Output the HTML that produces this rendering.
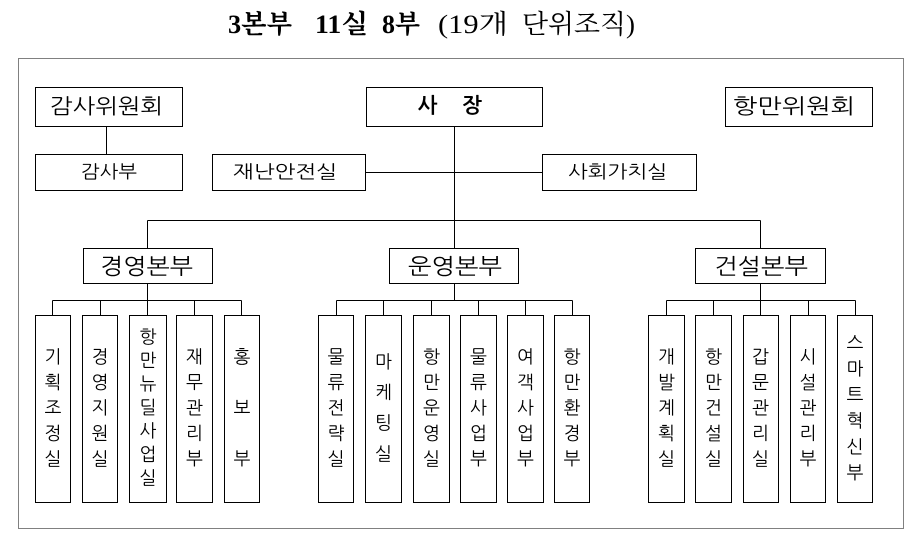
<!DOCTYPE html>
<html><head><meta charset="utf-8"><style>
html,body{margin:0;padding:0;background:#fff;}
svg{display:block;}
.k{font-family:"NanumGothic","Noto Sans CJK KR",sans-serif;fill:#000;}
.t{font-family:"Liberation Serif","Noto Serif CJK SC",serif;fill:#000;}
</style></head><body>
<svg width="911" height="539" viewBox="0 0 911 539" xmlns="http://www.w3.org/2000/svg">
<rect x="0" y="0" width="911" height="539" fill="#fff"/>
<!-- Title -->
<g class="t" font-size="26">
<text x="228" y="33" font-weight="bold" textLength="64" lengthAdjust="spacingAndGlyphs">3본부</text>
<text x="315" y="33" font-weight="bold" textLength="53" lengthAdjust="spacingAndGlyphs">11실</text>
<text x="382" y="33" font-weight="bold" textLength="38" lengthAdjust="spacingAndGlyphs">8부</text>
<text x="438" y="33" textLength="70" lengthAdjust="spacingAndGlyphs">(19개</text>
<text x="522" y="33" textLength="113" lengthAdjust="spacingAndGlyphs">단위조직)</text>
</g>
<!-- dotted frame -->
<rect x="18.5" y="58.5" width="885" height="470" fill="none" stroke="#000" stroke-width="1" stroke-dasharray="1,1"/>
<g fill="none" stroke="#000" stroke-width="1">
<!-- top boxes -->
<rect x="35.5" y="87.5" width="147" height="39"/>
<rect x="366.5" y="87.5" width="176" height="39"/>
<rect x="725.5" y="87.5" width="147" height="39"/>
<rect x="35.5" y="154.5" width="147" height="36"/>
<rect x="212.5" y="154.5" width="153" height="36"/>
<rect x="542.5" y="154.5" width="154" height="36"/>
<!-- connectors -->
<line x1="106.5" y1="126.5" x2="106.5" y2="154.5"/>
<line x1="454.5" y1="126.5" x2="454.5" y2="220.5"/>
<line x1="365.5" y1="172.5" x2="542.5" y2="172.5"/>
<line x1="147.5" y1="220.5" x2="760.5" y2="220.5"/>
<line x1="147.5" y1="220.5" x2="147.5" y2="248.5"/>
<line x1="760.5" y1="220.5" x2="760.5" y2="248.5"/>
<line x1="454.5" y1="220.5" x2="454.5" y2="248.5"/>
<!-- division boxes -->
<rect x="83.5" y="248.5" width="129" height="35"/>
<rect x="389.5" y="248.5" width="129" height="35"/>
<rect x="695.5" y="248.5" width="130" height="35"/>
<line x1="147.5" y1="283.5" x2="147.5" y2="300.5"/>
<line x1="454.5" y1="283.5" x2="454.5" y2="300.5"/>
<line x1="760.5" y1="283.5" x2="760.5" y2="300.5"/>
<line x1="52.5" y1="300.5" x2="241.5" y2="300.5"/>
<line x1="336.5" y1="300.5" x2="572.5" y2="300.5"/>
<line x1="666.5" y1="300.5" x2="855.5" y2="300.5"/>
<!-- sub verticals -->
<line x1="52.5" y1="300.5" x2="52.5" y2="315.5"/>
<line x1="100.5" y1="300.5" x2="100.5" y2="315.5"/>
<line x1="147.5" y1="300.5" x2="147.5" y2="315.5"/>
<line x1="194.5" y1="300.5" x2="194.5" y2="315.5"/>
<line x1="241.5" y1="300.5" x2="241.5" y2="315.5"/>
<line x1="336.5" y1="300.5" x2="336.5" y2="315.5"/>
<line x1="383.5" y1="300.5" x2="383.5" y2="315.5"/>
<line x1="431.5" y1="300.5" x2="431.5" y2="315.5"/>
<line x1="478.5" y1="300.5" x2="478.5" y2="315.5"/>
<line x1="525.5" y1="300.5" x2="525.5" y2="315.5"/>
<line x1="572.5" y1="300.5" x2="572.5" y2="315.5"/>
<line x1="666.5" y1="300.5" x2="666.5" y2="315.5"/>
<line x1="713.5" y1="300.5" x2="713.5" y2="315.5"/>
<line x1="760.5" y1="300.5" x2="760.5" y2="315.5"/>
<line x1="808.5" y1="300.5" x2="808.5" y2="315.5"/>
<line x1="855.5" y1="300.5" x2="855.5" y2="315.5"/>
<!-- sub boxes -->
<rect x="35.5" y="315.5" width="35" height="187"/>
<rect x="82.5" y="315.5" width="35" height="187"/>
<rect x="129.5" y="315.5" width="37" height="187"/>
<rect x="176.5" y="315.5" width="36" height="187"/>
<rect x="224.5" y="315.5" width="35" height="187"/>
<rect x="318.5" y="315.5" width="35" height="187"/>
<rect x="365.5" y="315.5" width="36" height="187"/>
<rect x="413.5" y="315.5" width="36" height="187"/>
<rect x="460.5" y="315.5" width="36" height="187"/>
<rect x="507.5" y="315.5" width="36" height="187"/>
<rect x="554.5" y="315.5" width="35" height="187"/>
<rect x="648.5" y="315.5" width="36" height="187"/>
<rect x="695.5" y="315.5" width="36" height="187"/>
<rect x="743.5" y="315.5" width="35" height="187"/>
<rect x="790.5" y="315.5" width="35" height="187"/>
<rect x="837.5" y="315.5" width="35" height="187"/>
</g>
<!-- horizontal labels -->
<g class="k" dominant-baseline="central">
<text x="50" y="107" font-size="21" textLength="113" lengthAdjust="spacingAndGlyphs">감사위원회</text>
<text x="733" y="107" font-size="21" textLength="122" lengthAdjust="spacingAndGlyphs">항만위원회</text>
<text x="427.5" y="106" font-size="21" font-weight="bold" text-anchor="middle">사</text>
<text x="472" y="106" font-size="21" font-weight="bold" text-anchor="middle">장</text>
<text x="81" y="172" font-size="18" textLength="56" lengthAdjust="spacingAndGlyphs">감사부</text>
<text x="233" y="172" font-size="18" textLength="104" lengthAdjust="spacingAndGlyphs">재난안전실</text>
<text x="568" y="172" font-size="18" textLength="99" lengthAdjust="spacingAndGlyphs">사회가치실</text>
<text x="100" y="267" font-size="22" textLength="93" lengthAdjust="spacingAndGlyphs">경영본부</text>
<text x="408" y="267" font-size="22" textLength="94" lengthAdjust="spacingAndGlyphs">운영본부</text>
<text x="714" y="267" font-size="22" textLength="94" lengthAdjust="spacingAndGlyphs">건설본부</text>
</g>
<!-- vertical labels -->
<g class="k" font-size="18" text-anchor="middle" dominant-baseline="central">
<g transform="translate(53,0)"><text y="357">기</text><text y="382.5">획</text><text y="408">조</text><text y="433.5">정</text><text y="459">실</text></g>
<g transform="translate(100,0)"><text y="357">경</text><text y="382.5">영</text><text y="408">지</text><text y="433.5">원</text><text y="459">실</text></g>
<g transform="translate(148,0)"><text y="337">항</text><text y="360.5">만</text><text y="384">뉴</text><text y="407.5">딜</text><text y="431">사</text><text y="454.5">업</text><text y="478">실</text></g>
<g transform="translate(194.5,0)"><text y="357">재</text><text y="382.5">무</text><text y="408">관</text><text y="433.5">리</text><text y="459">부</text></g>
<g transform="translate(242,0)"><text y="357">홍</text><text y="408">보</text><text y="459">부</text></g>

<g transform="translate(336,0)"><text y="357">물</text><text y="382.5">류</text><text y="408">전</text><text y="433.5">략</text><text y="459">실</text></g>
<g transform="translate(383.5,0)"><text y="362">마</text><text y="392.5">케</text><text y="423">팅</text><text y="454">실</text></g>
<g transform="translate(431.5,0)"><text y="357">항</text><text y="382.5">만</text><text y="408">운</text><text y="433.5">영</text><text y="459">실</text></g>
<g transform="translate(478.5,0)"><text y="357">물</text><text y="382.5">류</text><text y="408">사</text><text y="433.5">업</text><text y="459">부</text></g>
<g transform="translate(525.5,0)"><text y="357">여</text><text y="382.5">객</text><text y="408">사</text><text y="433.5">업</text><text y="459">부</text></g>
<g transform="translate(572,0)"><text y="357">항</text><text y="382.5">만</text><text y="408">환</text><text y="433.5">경</text><text y="459">부</text></g>

<g transform="translate(666.5,0)"><text y="357">개</text><text y="382.5">발</text><text y="408">계</text><text y="433.5">획</text><text y="459">실</text></g>
<g transform="translate(713.5,0)"><text y="357">항</text><text y="382.5">만</text><text y="408">건</text><text y="433.5">설</text><text y="459">실</text></g>
<g transform="translate(760.5,0)"><text y="357">갑</text><text y="382.5">문</text><text y="408">관</text><text y="433.5">리</text><text y="459">실</text></g>
<g transform="translate(808,0)"><text y="357">시</text><text y="382.5">설</text><text y="408">관</text><text y="433.5">리</text><text y="459">부</text></g>
<g transform="translate(855,0)"><text y="343">스</text><text y="369">마</text><text y="395">트</text><text y="421">혁</text><text y="447">신</text><text y="473">부</text></g>
</g>
</svg>
</body></html>
